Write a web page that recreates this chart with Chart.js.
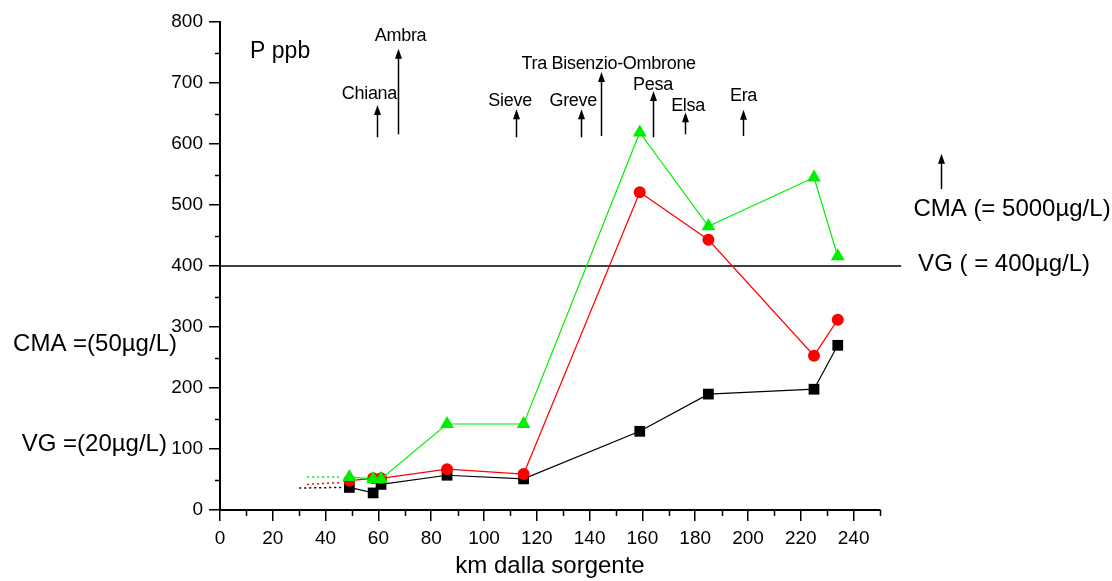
<!DOCTYPE html>
<html>
<head>
<meta charset="utf-8">
<script src="https://cdn.jsdelivr.net/npm/chart.js@4.4.1/dist/chart.umd.min.js"></script>
<style>
html,body{margin:0;padding:0;background:#fff;}
canvas{display:block;}
</style>
</head>
<body>
<canvas id="c" width="1112" height="581"></canvas>
<script>
// ---- data ----
const km = [49, 58, 61, 86, 115, 159, 185, 225, 234];
const seriesBlack = [37, 28, 42, 57, 51, 129, 190, 198, 270];
const seriesRed = [48, 52, 52, 67, 59, 521, 443, 253, 312];
const seriesGreen = [54, 51, 51, 141, 141, 619, 465, 545, 416];

// dotted lead-in segments (km, value)
const dottedKm = [[30, 46], [33, 46], [33, 46]];
const dottedBlack = [36, 37];
const dottedRed = [42, 45];
const dottedGreen = [54, 54];

// VG threshold line
const vgValue = 400;
const vgKmRange = [0, 258];

// tributary annotations
const riverNames = ['Chiana', 'Ambra', 'Sieve', 'Greve', 'Tra Bisenzio-Ombrone', 'Pesa', 'Elsa', 'Era'];
const riverKm = [59.3, 67.6, 112.3, 136.8, 144.4, 164, 176.3, 198.2];
const arrowBase = [611, 616, 611, 611, 613, 611, 616, 613];
const arrowTip = [664, 756, 657, 657, 718, 687, 652, 656];
const labelKm = [56.6, 68.4, 109.9, 133.8, 147.2, 164, 177.3, 198.3];
const labelVal = [682, 777, 671, 671, 731, 696, 662, 679];

const xTickLabels = [0, 20, 40, 60, 80, 100, 120, 140, 160, 180, 200, 220, 240];
const yTickLabels = [0, 100, 200, 300, 400, 500, 600, 700, 800];

const FONT = "'Liberation Sans', Arial, sans-serif";

const minorTicks = {
  id: 'minorTicks',
  afterDraw(chart) {
    const ctx = chart.ctx, xs = chart.scales.x, ys = chart.scales.y;
    ctx.save();
    ctx.strokeStyle = '#000';
    ctx.lineWidth = 1.5;
    ctx.beginPath();
    for (let v = 50; v < 800; v += 100) {
      const y = Math.round(ys.getPixelForValue(v)) + 0.5;
      ctx.moveTo(xs.left - 5, y); ctx.lineTo(xs.left, y);
    }
    for (let v = 10; v <= 250; v += 20) {
      const x = Math.round(xs.getPixelForValue(v)) + 0.5;
      ctx.moveTo(x, ys.bottom); ctx.lineTo(x, ys.bottom + 6);
    }
    ctx.stroke();
    ctx.restore();
  }
};

function arrow(ctx, x, y0, y1) {
  ctx.beginPath();
  ctx.moveTo(x, y0); ctx.lineTo(x, y1 + 6);
  ctx.stroke();
  ctx.beginPath();
  ctx.moveTo(x, y1); ctx.lineTo(x - 3.5, y1 + 10); ctx.lineTo(x + 3.5, y1 + 10);
  ctx.closePath();
  ctx.fill();
}

const annotations = {
  id: 'annotations',
  afterDatasetsDraw(chart) {
    const ctx = chart.ctx, xs = chart.scales.x, ys = chart.scales.y;
    ctx.save();
    ctx.fillStyle = '#000';
    ctx.strokeStyle = '#000';
    ctx.lineWidth = 1.5;
    ctx.textBaseline = 'middle';
    ctx.textAlign = 'center';
    if ('letterSpacing' in ctx) ctx.letterSpacing = '-0.3px';
    ctx.font = '18px ' + FONT;
    for (let i = 0; i < riverNames.length; i++) {
      const x = Math.round(xs.getPixelForValue(riverKm[i])) + 0.5;
      arrow(ctx, x, ys.getPixelForValue(arrowBase[i]), ys.getPixelForValue(arrowTip[i]));
      ctx.fillText(riverNames[i], xs.getPixelForValue(labelKm[i]), ys.getPixelForValue(labelVal[i]));
    }
    if ('letterSpacing' in ctx) ctx.letterSpacing = '0px';
    // right side
    const xr = Math.round(xs.getPixelForValue(273)) + 0.5;
    arrow(ctx, xr, ys.getPixelForValue(526), ys.getPixelForValue(584));
    ctx.font = '24px ' + FONT;
    ctx.fillText('CMA (= 5000\u00b5g/L)', xs.getPixelForValue(300), ys.getPixelForValue(493));
    ctx.fillText('VG ( = 400\u00b5g/L)', xs.getPixelForValue(297), ys.getPixelForValue(403));
    // left side
    ctx.textAlign = 'right';
    ctx.fillText('CMA =(50\u00b5g/L)', xs.getPixelForValue(-16.3), ys.getPixelForValue(272));
    ctx.fillText('VG =(20\u00b5g/L)', xs.getPixelForValue(-20.1), ys.getPixelForValue(108));
    // unit label
    ctx.textAlign = 'left';
    ctx.font = '23px ' + FONT;
    ctx.fillText('P ppb', xs.getPixelForValue(11.4), ys.getPixelForValue(752));
    ctx.restore();
  }
};

function pts(xsArr, ysArr) { return xsArr.map((x, i) => ({ x: x, y: ysArr[i] })); }

const lineDs = (label, data, color, style, radius) => ({
  label, data: pts(km, data), borderColor: color, backgroundColor: color,
  borderWidth: 1.2, pointStyle: style, pointRadius: radius, pointHoverRadius: radius,
  pointBorderWidth: 0, tension: 0
});
const dotDs = (label, xr, data, color) => ({
  label, data: pts(xr, data), borderColor: color, borderWidth: 1.5,
  borderDash: [2, 3], pointRadius: 0, tension: 0
});

new Chart(document.getElementById('c'), {
  type: 'line',
  data: {
    datasets: [
      lineDs('green', seriesGreen, '#00ee00', 'triangle', 8),
      lineDs('red', seriesRed, '#ff0000', 'circle', 6),
      lineDs('black', seriesBlack, '#000000', 'rect', 7.6),
      dotDs('green dotted', dottedKm[2], dottedGreen, '#00ee00'),
      dotDs('red dotted', dottedKm[1], dottedRed, '#ff0000'),
      dotDs('black dotted', dottedKm[0], dottedBlack, '#000000'),
      { label: 'VG', data: pts(vgKmRange, [vgValue, vgValue]), borderColor: '#000', borderWidth: 1.3,
        pointRadius: 0, clip: false }
    ]
  },
  options: {
    responsive: false,
    animation: false,
    devicePixelRatio: 1,
    layout: { padding: { left: 0, right: 232, top: 22, bottom: 0 } },
    plugins: { legend: { display: false }, tooltip: { enabled: false } },
    scales: {
      x: {
        type: 'linear', min: 0, max: 250, position: 'bottom',
        border: { color: '#000', width: 2 },
        grid: { drawOnChartArea: false, tickLength: 11, color: '#000', lineWidth: 1.5 },
        ticks: { stepSize: 20, color: '#000', font: { size: 19, family: FONT }, padding: 6, maxRotation: 0 },
        afterBuildTicks(s) { s.ticks = xTickLabels.map(v => ({ value: v })); },
        afterFit(s) { s.height = 71; },
        title: { display: true, text: 'km dalla sorgente', color: '#000', font: { size: 24, family: FONT }, padding: { top: 0, bottom: 0 } }
      },
      y: {
        type: 'linear', min: 0, max: 800, position: 'left',
        border: { color: '#000', width: 2 },
        grid: { drawOnChartArea: false, tickLength: 11, color: '#000', lineWidth: 1.5 },
        ticks: { stepSize: 100, color: '#000', font: { size: 19, family: FONT }, padding: 6 },
        afterBuildTicks(s) { s.ticks = yTickLabels.map(v => ({ value: v })); },
        afterFit(s) { s.width = 220; }
      }
    }
  },
  plugins: [minorTicks, annotations]
});
</script>
</body>
</html>
